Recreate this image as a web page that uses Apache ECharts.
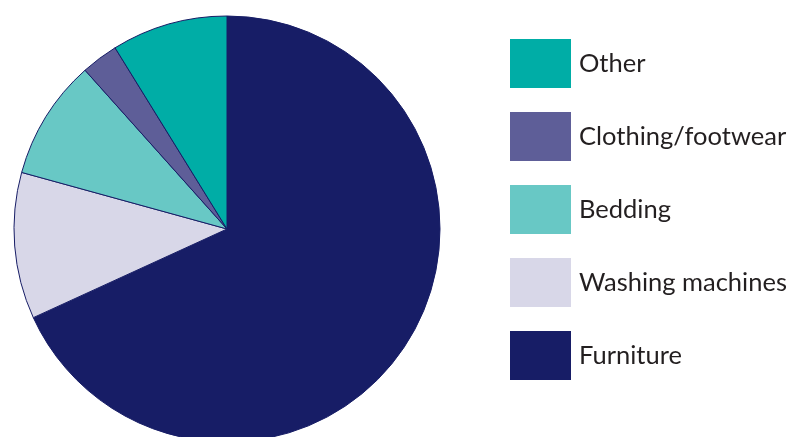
<!DOCTYPE html>
<html>
<head>
<meta charset="utf-8">
<script src="https://cdn.jsdelivr.net/npm/echarts@6/dist/echarts.min.js"></script>
<style>
  html, body { margin: 0; padding: 0; background: #fff; }
  #chart { width: 789px; height: 437px; }
</style>
</head>
<body>
<div id="chart"></div>
<script>
// slices in clockwise order starting at 12 o'clock
const categories = ['Furniture', 'Washing machines', 'Bedding', 'Clothing/footwear', 'Other'];
const shares = [68.1, 11.1, 9.1, 2.8, 8.8];
const colors = ['#171d66', '#d8d7e8', '#68c8c5', '#5e5e98', '#00ada6'];
// legend lists them bottom-up
const legendOrder = ['Other', 'Clothing/footwear', 'Bedding', 'Washing machines', 'Furniture'];

const chart = echarts.init(document.getElementById('chart'));

chart.setOption({
  animation: false,
  backgroundColor: '#fff',
  legend: {
    orient: 'vertical',
    left: 510,
    top: 39,
    padding: 0,
    icon: 'rect',
    itemWidth: 61,
    itemHeight: 49,
    itemGap: 24,
    selectedMode: false,
    data: legendOrder,
    itemStyle: { borderWidth: 0 },
    textStyle: {
      fontFamily: 'Lato',
      fontSize: 25.5,
      color: '#231f20',
      padding: [0, 0, 0, 3]
    }
  },
  series: [
    {
      type: 'pie',
      center: [227, 229],
      radius: 213,
      startAngle: 90,
      clockwise: true,
      label: { show: false },
      labelLine: { show: false },
      emphasis: { disabled: true },
      itemStyle: { borderColor: '#171d66', borderWidth: 1 },
      data: categories.map((name, i) => ({
        name: name,
        value: shares[i],
        itemStyle: { color: colors[i] }
      }))
    }
  ]
});
</script>
</body>
</html>
